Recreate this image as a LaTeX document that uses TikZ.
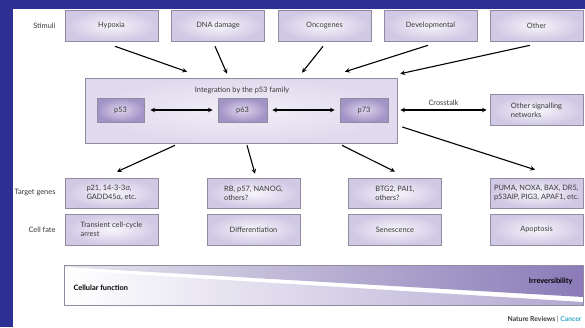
\documentclass[tikz,border=0pt]{standalone}
\usepackage{fontspec}
\setmainfont{Lato}
\usepackage{tikz}
\usetikzlibrary{arrows,shapes}
\definecolor{frameblue}{HTML}{2E2F92}
\definecolor{boxedge}{HTML}{8E8C9E}
\definecolor{lilac}{HTML}{D0C8E4}
\definecolor{lilacpale}{HTML}{F7F5FB}
\definecolor{plum}{HTML}{A293C6}
\definecolor{plumpale}{HTML}{DDD5EC}
\definecolor{famipale}{HTML}{F1EEF7}
\definecolor{famiedge}{HTML}{E1DAEE}
\definecolor{wedge}{HTML}{8A7BB8}
\definecolor{wedgepale}{HTML}{E8E6EE}
\definecolor{wedgelow}{HTML}{B2A7D1}
\definecolor{inkgray}{HTML}{3A3A3A}
\definecolor{cancerblue}{HTML}{35A9C9}
\tikzset{
  stimbox/.style={draw=boxedge, line width=0.6pt, inner color=lilacpale, outer color=lilac,
    minimum width=93pt, minimum height=31pt, align=left, text=inkgray,
    font=\fontsize{7.4}{8.8}\selectfont},
  genebox/.style={stimbox, minimum height=30pt},
  famibox/.style={draw=boxedge, line width=0.6pt, inner color=plumpale, outer color=plum,
    minimum height=24pt, text=inkgray, font=\fontsize{7.4}{8.8}\selectfont},
  rowlabel/.style={anchor=east, text=inkgray, font=\fontsize{7.4}{8.8}\selectfont},
  flow/.style={->, line width=1.1pt}
}
\begin{document}
\begin{tikzpicture}[>=stealth, x=1pt, y=-1pt]
\useasboundingbox (0,0) rectangle (585,327);
\fill[frameblue] (0,0) rectangle (585,327);
\fill[white] (13,9) rectangle (585,327);
% stimuli
\node[rowlabel] (stimlab) at (59,25.5) {Stimuli};
\foreach \name/\x/\txt in {hyp/111.5/Hypoxia, dna/218/DNA damage, onc/324.5/Oncogenes,
    dev/430.5/Developmental, oth/536.5/Other}
    \node[stimbox] (\name) at (\x,25.5) {\txt};
% p53 family
\node[draw=boxedge, line width=0.6pt, inner color=famipale, outer color=famiedge,
  minimum width=312pt, minimum height=65pt] (integ) at (241,110.5) {};
\node[text=inkgray, font=\fontsize{7.4}{8.8}\selectfont] (integtitle) at (242,90) {Integration by the p53 family};
\node[famibox, minimum width=47pt] (p53) at (120.5,110) {p53};
\node[famibox, minimum width=49pt] (p63) at (242.5,110) {p63};
\node[famibox, minimum width=48pt] (p73) at (364,110) {p73};
\node[stimbox] (signal) at (536.5,110) {Other signalling\\networks};
\draw[<->, line width=1.1pt, shorten <=6pt, shorten >=5pt] (p53) -- (p63);
\draw[<->, line width=1.1pt, shorten <=5pt, shorten >=5pt] (p63) -- (p73);
\draw[<->, line width=1.1pt, shorten <=3pt, shorten >=3pt] (integ.east |- signal) -- (signal)
    node [midway, above=1pt, text=inkgray, font=\fontsize{7.4}{8.8}\selectfont] {Crosstalk};
\draw[flow] ([xshift=3.5pt,yshift=-5pt]hyp.south) -- ([xshift=-54pt,yshift=6pt]integ.north);
\draw[flow] ([xshift=-3pt,yshift=-5pt]dna.south) -- ([xshift=-14pt,yshift=4pt]integ.north);
\draw[flow] ([xshift=-1.5pt,yshift=-5pt]onc.south) -- ([xshift=61pt,yshift=5pt]integ.north);
\draw[flow] ([xshift=-2.5pt,yshift=-4pt]dev.south) -- ([xshift=104pt,yshift=6pt]integ.north);
\draw[flow] ([xshift=-6.5pt,yshift=-4pt]oth.south) -- ([xshift=3pt,yshift=4pt]integ.north east);
% target genes and cell fate
\node[rowlabel] (genelab) at (59,193) {Target genes};
\node[rowlabel] (fatelab) at (59,229.5) {Cell fate};
\node[genebox] (tg1) at (111.5,193) {p21, 14-3-3σ,\\GADD45α, etc.};
\node[genebox] (tg2) at (253.5,193) {RB, p57, NANOG,\\others?};
\node[genebox] (tg3) at (395,193) {BTG2, PAI1,\\others?};
\node[genebox] (tg4) at (536.5,193) {PUMA, NOXA, BAX, DR5,\\p53AIP, PIG3, APAF1, etc.};
\node[stimbox] (cf1) at (111.5,229.5) {Transient cell-cycle\\arrest};
\node[stimbox] (cf2) at (253.5,229.5) {Differentiation};
\node[stimbox] (cf3) at (395,229.5) {Senescence};
\node[stimbox] (cf4) at (536.5,229.5) {Apoptosis};
\draw[flow] ([xshift=-66pt,yshift=-2pt]integ.south) -- ([xshift=5.5pt,yshift=6pt]tg1.north);
\draw[flow] ([xshift=6pt,yshift=-2pt]integ.south) -- ([xshift=1.5pt,yshift=4pt]tg2.north);
\draw[flow] ([xshift=101pt,yshift=-2pt]integ.south) -- ([yshift=6pt]tg3.north);
\draw[flow] ([xshift=5pt,yshift=-16.5pt]integ.east) -- ([xshift=-1.5pt,yshift=8pt]tg4.north);
% cellular function bar
\shade[left color=wedgepale, right color=wedge] (64,265) -- (583,265) -- (583,297) -- (64,267) -- cycle;
\shade[left color=white, right color=wedgelow] (64,270) -- (583,302) -- (583,305) -- (64,305) -- cycle;
\draw[boxedge, line width=0.5pt] (64,265) rectangle (583,305);
\node[anchor=west, text=black, font=\bfseries\fontsize{7.4}{8.8}\selectfont] (cellfn) at (70,288) {Cellular function};
\node[anchor=east, text=black, font=\bfseries\fontsize{7.4}{8.8}\selectfont] (irrev) at (576,281) {Irreversibility};
\node[anchor=east, font=\bfseries\fontsize{6.8}{8}\selectfont] (credit) at (585,319)
    {\textcolor{inkgray}{Nature Reviews} \textcolor{gray}{|} \textcolor{cancerblue}{Cancer}};
\end{tikzpicture}
\end{document}
